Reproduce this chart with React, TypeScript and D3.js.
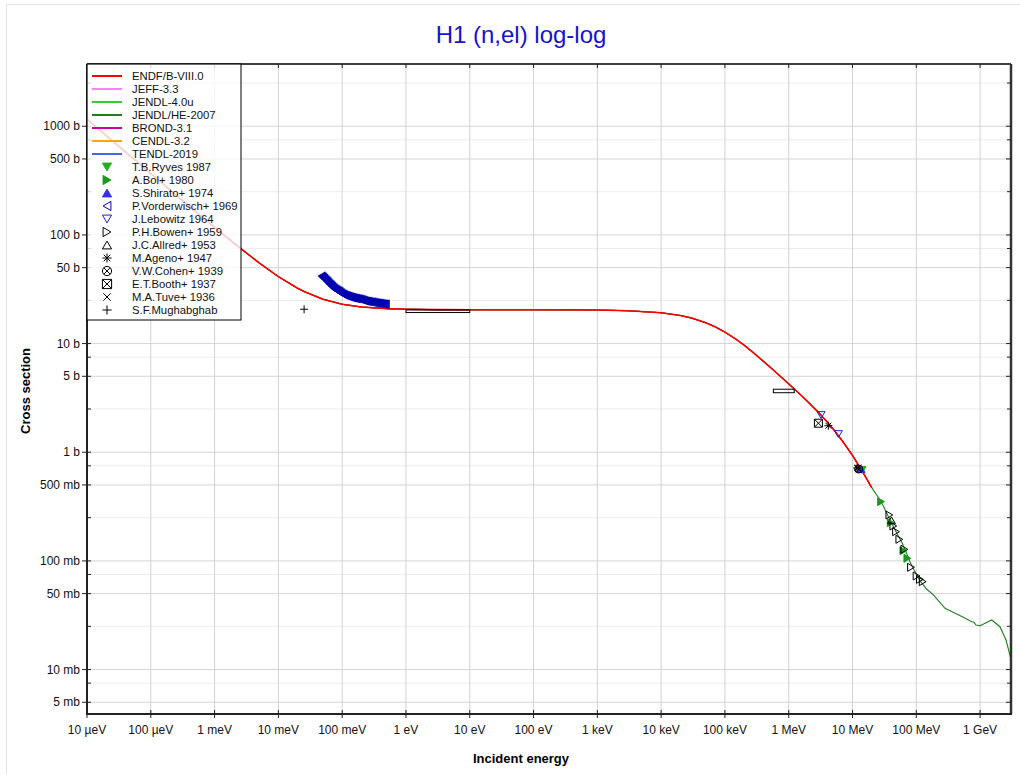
import React from 'react';
import * as d3 from 'd3';

const FONT = "'Liberation Sans', Arial, Helvetica, sans-serif";

// ---------- evaluated curves (energy in eV, cross section in barns) ----------
const endfEnergy = [1e-5, 2e-5, 5e-5, 1e-4, 2e-4, 5e-4, 1e-3, 2e-3, 5e-3, 1e-2, 2e-2, 2.53e-2, 5e-2, 0.1, 0.2, 0.5, 1, 3, 10, 100, 1e3, 3e3, 1e4, 2e4, 3e4, 5e4, 7e4, 1e5, 1.5e5, 2e5, 3e5, 5e5, 7e5, 1e6, 1.5e6, 2e6, 3e6, 4e6, 5e6, 7e6, 1e7, 1.4e7, 2e7];
const endfXs = [1160, 820, 519, 367, 260, 165, 117.5, 84.2, 55.2, 41.3, 32.3, 30.1, 25.6, 23.0, 21.7, 20.96, 20.7, 20.53, 20.47, 20.45, 20.34, 20.08, 19.22, 18.13, 17.17, 15.57, 14.28, 12.76, 10.94, 9.66, 7.96, 6.13, 5.14, 4.25, 3.42, 2.91, 2.29, 1.9, 1.63, 1.26, 0.934, 0.68, 0.472];

const jendlHeHighEnergy = [2e7, 2.5e7, 3e7, 4e7, 5e7, 6e7, 7e7, 8e7, 1e8, 1.17e8, 1.46e8, 1.85e8, 2.82e8, 4e8, 5.46e8, 7.39e8, 8.03e8, 8.63e8, 1e9, 1.52e9, 2.05e9, 2.55e9, 3.02e9];
const jendlHeHighXs = [0.472, 0.39, 0.325, 0.228, 0.178, 0.146, 0.118, 0.097, 0.0755, 0.0644, 0.0548, 0.0486, 0.0366, 0.0332, 0.0303, 0.0276, 0.0272, 0.0257, 0.0253, 0.0286, 0.0248, 0.0187, 0.0127];

// ---------- experimental data ----------
const vorderwischE = [0.048, 0.0495, 0.051, 0.0525, 0.054, 0.0555, 0.057, 0.0585, 0.06, 0.062, 0.064, 0.066, 0.068, 0.07, 0.072, 0.0745, 0.077, 0.0795, 0.082, 0.0845, 0.087, 0.09, 0.093, 0.096, 0.099, 0.1025, 0.106, 0.1095, 0.113, 0.117, 0.121, 0.1255, 0.13, 0.135, 0.14, 0.145, 0.15, 0.156, 0.162, 0.1685, 0.175, 0.1825, 0.19, 0.1975, 0.205, 0.2135, 0.222, 0.231, 0.24, 0.25, 0.26, 0.271, 0.282, 0.2935, 0.305, 0.3175, 0.33, 0.344, 0.358, 0.373, 0.388, 0.404, 0.42, 0.4375, 0.455, 0.4725, 0.49];
const vorderwischXs = [41.9, 41.2, 40.5, 39.8, 39.2, 38.6, 38.0, 37.4, 36.9, 36.1, 35.4, 34.8, 34.2, 33.6, 33.1, 32.5, 32.0, 31.5, 31.1, 30.8, 30.5, 30.2, 29.9, 29.4, 29.0, 28.6, 28.3, 28.0, 27.8, 27.6, 27.4, 27.2, 27.0, 26.8, 26.7, 26.5, 26.4, 26.2, 26.1, 26.0, 25.9, 25.8, 25.7, 25.5, 25.3, 25.1, 24.9, 24.7, 24.6, 24.5, 24.4, 24.3, 24.2, 24.1, 24.0, 23.9, 23.8, 23.7, 23.6, 23.55, 23.5, 23.4, 23.3, 23.2, 23.1, 23.05, 23.0];
const ryvesE = [1.41e7];
const ryvesXs = [0.687];
const bolE = [2.8e7, 3.97e7, 6.27e7, 7.23e7];
const bolXs = [0.351, 0.225, 0.124, 0.1057];
const shiratoE = [1.36e7];
const shiratoXs = [0.70];
const lebowitzE = [3.21e6, 6.0e6];
const lebowitzXs = [2.2, 1.47];
const bowenE = [3.78e7, 4.36e7, 4.81e7, 5.42e7, 6.49e7, 8.26e7, 1.01e8, 1.14e8, 1.26e8];
const bowenXs = [0.2646, 0.2096, 0.1857, 0.158, 0.1279, 0.0873, 0.0726, 0.0677, 0.0644];
const allredE = [4.08e7];
const allredXs = [0.236];
const agenoE = [4.18e6, 1.18e7];
const agenoXs = [1.755, 0.716];
const cohenE = [1.25e7];
const cohenXs = [0.7];
const boothE = [2.92e6];
const boothXs = [1.85];
const tuveE = [1.22e7];
const tuveXs = [0.72];
const mughabghabE = [0.0253];
const mughabghabXs = [20.7];

// energy-range boxes
const boxLoE = [1, 5.74e5];
const boxHiE = [10, 1.22e6];
const boxLoXs = [19.3, 3.53];
const boxHiXs = [20.4, 3.8];

// ---------- ticks ----------
const xTickValues = [1e-5, 1e-4, 1e-3, 1e-2, 1e-1, 1, 10, 100, 1e3, 1e4, 1e5, 1e6, 1e7, 1e8, 1e9];
const xTickLabels = ['10 µeV', '100 µeV', '1 meV', '10 meV', '100 meV', '1 eV', '10 eV', '100 eV', '1 keV', '10 keV', '100 keV', '1 MeV', '10 MeV', '100 MeV', '1 GeV'];
const yTickValues = [5e-3, 1e-2, 5e-2, 0.1, 0.5, 1, 5, 10, 50, 100, 500, 1000];
const yTickLabels = ['5 mb', '10 mb', '50 mb', '100 mb', '500 mb', '1 b', '5 b', '10 b', '50 b', '100 b', '500 b', '1000 b'];
const yMinorValues = [7.5e-3, 2.5e-2, 7.5e-2, 0.25, 0.75, 2.5, 7.5, 25, 75, 250, 750, 2500];

const libNames = ['ENDF/B-VIII.0', 'JEFF-3.3', 'JENDL-4.0u', 'JENDL/HE-2007', 'BROND-3.1', 'CENDL-3.2', 'TENDL-2019'];
const libColors = ['#ff0000', '#ff80ff', '#33cc33', '#1f7f1f', '#cc0099', '#ffa500', '#4169e1'];

type Shape = 'triDown' | 'triRight' | 'triUp' | 'triLeft' | 'asterisk' | 'circleX' | 'squareX' | 'x' | 'plus';
interface ExpSet { name: string; shape: Shape; color: string; filled: boolean; e: number[]; xs: number[] }
const expSets: ExpSet[] = [
  { name: 'T.B.Ryves 1987', shape: 'triDown', color: '#22b022', filled: true, e: ryvesE, xs: ryvesXs },
  { name: 'A.Bol+ 1980', shape: 'triRight', color: '#1a9a1a', filled: true, e: bolE, xs: bolXs },
  { name: 'S.Shirato+ 1974', shape: 'triUp', color: '#3333ee', filled: true, e: shiratoE, xs: shiratoXs },
  { name: 'P.Vorderwisch+ 1969', shape: 'triLeft', color: '#0000b0', filled: false, e: vorderwischE, xs: vorderwischXs },
  { name: 'J.Lebowitz 1964', shape: 'triDown', color: '#2222cc', filled: false, e: lebowitzE, xs: lebowitzXs },
  { name: 'P.H.Bowen+ 1959', shape: 'triRight', color: '#000000', filled: false, e: bowenE, xs: bowenXs },
  { name: 'J.C.Allred+ 1953', shape: 'triUp', color: '#000000', filled: false, e: allredE, xs: allredXs },
  { name: 'M.Ageno+ 1947', shape: 'asterisk', color: '#000000', filled: false, e: agenoE, xs: agenoXs },
  { name: 'V.W.Cohen+ 1939', shape: 'circleX', color: '#000000', filled: false, e: cohenE, xs: cohenXs },
  { name: 'E.T.Booth+ 1937', shape: 'squareX', color: '#000000', filled: false, e: boothE, xs: boothXs },
  { name: 'M.A.Tuve+ 1936', shape: 'x', color: '#000000', filled: false, e: tuveE, xs: tuveXs },
  { name: 'S.F.Mughabghab', shape: 'plus', color: '#000000', filled: false, e: mughabghabE, xs: mughabghabXs },
];

function markerPath(shape: Shape, cx: number, cy: number, s: number): string {
  const h = s * 0.85;
  switch (shape) {
    case 'triDown': return `M${cx - s},${cy - h}L${cx + s},${cy - h}L${cx},${cy + h}Z`;
    case 'triUp': return `M${cx - s},${cy + h}L${cx + s},${cy + h}L${cx},${cy - h}Z`;
    case 'triRight': return `M${cx - h},${cy - s}L${cx - h},${cy + s}L${cx + h},${cy}Z`;
    case 'triLeft': return `M${cx + h},${cy - s}L${cx + h},${cy + s}L${cx - h},${cy}Z`;
    case 'asterisk': {
      const d = s * 0.72;
      return `M${cx - s},${cy}L${cx + s},${cy}M${cx},${cy - s}L${cx},${cy + s}M${cx - d},${cy - d}L${cx + d},${cy + d}M${cx - d},${cy + d}L${cx + d},${cy - d}`;
    }
    case 'circleX': {
      const d = s * 0.7;
      return `M${cx + s},${cy}A${s},${s} 0 1 1 ${cx - s},${cy}A${s},${s} 0 1 1 ${cx + s},${cy}M${cx - d},${cy - d}L${cx + d},${cy + d}M${cx - d},${cy + d}L${cx + d},${cy - d}`;
    }
    case 'squareX':
      return `M${cx - s},${cy - s}H${cx + s}V${cy + s}H${cx - s}ZM${cx - s},${cy - s}L${cx + s},${cy + s}M${cx - s},${cy + s}L${cx + s},${cy - s}`;
    case 'x': {
      const d = s * 0.8;
      return `M${cx - d},${cy - d}L${cx + d},${cy + d}M${cx - d},${cy + d}L${cx + d},${cy - d}`;
    }
    case 'plus':
    default:
      return `M${cx - s},${cy}L${cx + s},${cy}M${cx},${cy - s}L${cx},${cy + s}`;
  }
}

export default function App() {
  const W = 1020, H = 774;
  const left = 87, right = 1011, top = 64, bottom = 714;
  const x = d3.scaleLog().domain([1e-5, 3.05e9]).range([left, right]);
  const y = d3.scaleLog().domain([3.9e-3, 3740]).range([bottom, top]);

  const line = d3.line<[number, number]>().x(d => x(d[0])).y(d => y(d[1]));
  const base: [number, number][] = endfEnergy.map((e, i) => [e, endfXs[i]]);
  const heExt: [number, number][] = jendlHeHighEnergy.map((e, i) => [e, jendlHeHighXs[i]]);
  const basePath = line(base) || '';
  const hePath = line([...base.slice(0, -1), ...heExt]) || '';

  // draw order: last library first, ENDF on top
  const drawOrder = [6, 5, 4, 2, 1, 3, 0];

  const legendRowY = (i: number) => 76 + i * 13;

  return (
    <svg width={W} height={H} style={{ position: 'absolute', left: 0, top: 0, background: '#fff' }} fontFamily={FONT}>
      <defs>
        <clipPath id="plotClip">
          <rect x={left} y={top} width={right - left} height={bottom - top} />
        </clipPath>
      </defs>
      <rect x={6.5} y={4.5} width={1040} height={800} fill="none" stroke="#e4e4e4" />

      {/* grid */}
      <g>
        {yMinorValues.filter(v => y(v) > top && y(v) < bottom).map((v, i) => (
          <line key={'ym' + i} x1={left} x2={right} y1={y(v)} y2={y(v)} stroke="#ececec" strokeWidth={1} />
        ))}
        {yTickValues.map((v, i) => (
          <line key={'yg' + i} x1={left} x2={right} y1={y(v)} y2={y(v)} stroke="#d6d6d6" strokeWidth={1} />
        ))}
        {xTickValues.map((v, i) => (
          <line key={'xg' + i} x1={x(v)} x2={x(v)} y1={top} y2={bottom} stroke="#d3d3d3" strokeWidth={1} />
        ))}
      </g>

      {/* curves */}
      <g clipPath="url(#plotClip)" fill="none">
        {drawOrder.map(i => (
          <path key={'lib' + i} d={i === 3 ? hePath : basePath} stroke={libColors[i]}
            strokeWidth={i === 0 ? 1.6 : i === 3 ? 1.1 : 1} />
        ))}
      </g>

      {/* energy-range boxes */}
      <g fill="none" stroke="#000" strokeWidth={1}>
        {boxLoE.map((e, i) => (
          <rect key={'box' + i} x={x(e)} y={y(boxHiXs[i])} width={x(boxHiE[i]) - x(e)}
            height={y(boxLoXs[i]) - y(boxHiXs[i])} />
        ))}
      </g>

      {/* experimental points */}
      <g clipPath="url(#plotClip)">
        {expSets.map((s, si) => (
          <g key={'set' + si}>
            {s.e.map((e, i) => (
              <path key={i} d={markerPath(s.shape, x(e), y(s.xs[i]), s.shape === 'triLeft' ? 3.3 : 4)}
                fill={s.filled ? s.color : 'none'} stroke={s.color}
                strokeWidth={s.shape === 'triLeft' ? 1.6 : 1} />
            ))}
          </g>
        ))}
      </g>

      {/* frame */}
      <line x1={left} x2={right} y1={top} y2={top} stroke="#000" strokeWidth={1.5} />
      <line x1={right} x2={right} y1={top} y2={bottom} stroke="#333" strokeWidth={2.5} />
      <line x1={left} x2={left} y1={top} y2={bottom + 1} stroke="#222" strokeWidth={2} />
      <line x1={left} x2={right + 1} y1={bottom} y2={bottom} stroke="#222" strokeWidth={2} />

      {/* ticks */}
      <g stroke="#222" strokeWidth={1}>
        {yTickValues.map((v, i) => (
          <g key={'yt' + i}>
            <line x1={82} x2={91} y1={y(v)} y2={y(v)} />
            <line x1={right - 5} x2={right} y1={y(v)} y2={y(v)} />
          </g>
        ))}
        {yMinorValues.filter(v => y(v) > top && y(v) < bottom).map((v, i) => (
          <g key={'ymt' + i}>
            <line x1={left} x2={left + 4} y1={y(v)} y2={y(v)} />
            <line x1={right - 4} x2={right} y1={y(v)} y2={y(v)} />
          </g>
        ))}
        {xTickValues.map((v, i) => (
          <g key={'xt' + i}>
            <line x1={x(v)} x2={x(v)} y1={bottom - 4} y2={bottom + 4} />
            <line x1={x(v)} x2={x(v)} y1={top} y2={top + 4} />
          </g>
        ))}
      </g>
      <g fontSize={12} fill="#111">
        {yTickValues.map((v, i) => (
          <text key={'yl' + i} x={80} y={y(v)} dy="0.35em" textAnchor="end">{yTickLabels[i]}</text>
        ))}
        {xTickValues.map((v, i) => (
          <text key={'xl' + i} x={x(v)} y={734} textAnchor="middle">{xTickLabels[i]}</text>
        ))}
      </g>

      {/* axis titles */}
      <text x={521} y={763} textAnchor="middle" fontSize={13} fontWeight="bold" fill="#000">Incident energy</text>
      <text transform="translate(30,391) rotate(-90)" textAnchor="middle" fontSize={13} fontWeight="bold" fill="#000">Cross section</text>

      {/* title */}
      <text x={521} y={43} textAnchor="middle" fontSize={24} fill="#1414cc">H1 (n,el) log-log</text>

      {/* legend */}
      <g>
        <rect x={87} y={64} width={154} height={256} fill="#fff" fillOpacity={0.8} stroke="#000" strokeWidth={1} />
        {libNames.map((n, i) => (
          <g key={'ll' + i}>
            <line x1={92} x2={122} y1={legendRowY(i)} y2={legendRowY(i)} stroke={libColors[i]} strokeWidth={2} />
            <text x={132} y={legendRowY(i)} dy="0.35em" fontSize={11.3} fill="#111">{n}</text>
          </g>
        ))}
        {expSets.map((s, j) => {
          const ry = legendRowY(libNames.length + j);
          return (
            <g key={'le' + j}>
              <path d={markerPath(s.shape, 107, ry, 4.6)} fill={s.filled ? s.color : 'none'} stroke={s.color} strokeWidth={1} />
              <text x={132} y={ry} dy="0.35em" fontSize={11.3} fill="#111">{s.name}</text>
            </g>
          );
        })}
      </g>
    </svg>
  );
}
